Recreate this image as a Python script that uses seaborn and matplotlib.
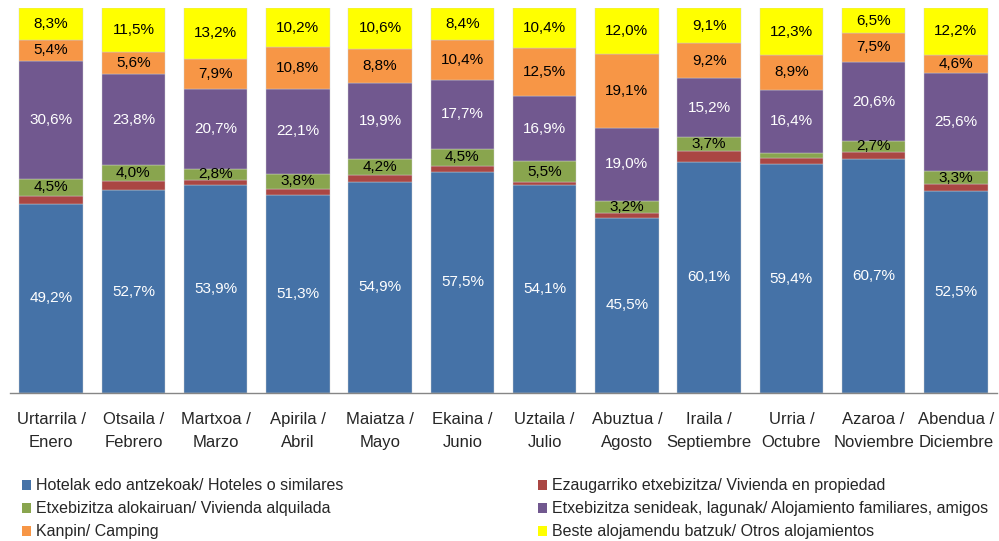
import numpy as np
import pandas as pd
import matplotlib
matplotlib.use("Agg")
import matplotlib.pyplot as plt
import seaborn as sns
from matplotlib.patches import Patch

months = ["Urtarrila /\nEnero", "Otsaila /\nFebrero", "Martxoa /\nMarzo", "Apirila /\nAbril",
          "Maiatza /\nMayo", "Ekaina /\nJunio", "Uztaila /\nJulio", "Abuztua /\nAgosto",
          "Iraila /\nSeptiembre", "Urria /\nOctubre", "Azaroa /\nNoviembre", "Abendua /\nDiciembre"]

hoteles = [49.2, 52.7, 53.9, 51.3, 54.9, 57.5, 54.1, 45.5, 60.1, 59.4, 60.7, 52.5]
propiedad = [2.0, 2.4, 1.5, 1.8, 1.6, 1.5, 0.6, 1.2, 2.7, 1.7, 2.0, 1.8]
alquilada = [4.5, 4.0, 2.8, 3.8, 4.2, 4.5, 5.5, 3.2, 3.7, 1.3, 2.7, 3.3]
familiares = [30.6, 23.8, 20.7, 22.1, 19.9, 17.7, 16.9, 19.0, 15.2, 16.4, 20.6, 25.6]
camping = [5.4, 5.6, 7.9, 10.8, 8.8, 10.4, 12.5, 19.1, 9.2, 8.9, 7.5, 4.6]
otros = [8.3, 11.5, 13.2, 10.2, 10.6, 8.4, 10.4, 12.0, 9.1, 12.3, 6.5, 12.2]

series_names = ["Hotelak edo antzekoak/ Hoteles o similares",
                "Ezaugarriko etxebizitza/ Vivienda en propiedad",
                "Etxebizitza alokairuan/ Vivienda alquilada",
                "Etxebizitza senideak, lagunak/ Alojamiento familiares, amigos",
                "Kanpin/ Camping",
                "Beste alojamendu batzuk/ Otros alojamientos"]
series_vals = [hoteles, propiedad, alquilada, familiares, camping, otros]
colors = ["#4572A7", "#AA4643", "#89A54E", "#71588F", "#F79646", "#FFFF00"]
text_colors = ["white", None, "black", "white", "black", "black"]
show_labels = [True, False, True, True, True, True]

sns.set_style("white")
plt.rcParams["font.family"] = ["Liberation Sans", "DejaVu Sans"]

fig = plt.figure(figsize=(9.99, 5.41), dpi=100)
ax = fig.add_axes([10/999, 1-393/541, 987/999, (393-8)/541])

bottom = np.zeros(len(months))
for name, vals, col, tc, sl in zip(series_names, series_vals, colors, text_colors, show_labels):
    df = pd.DataFrame({"mes": months, "val": vals})
    sns.barplot(data=df, x="mes", y="val", color=col, bottom=bottom, width=0.77,
                ax=ax, saturation=1, edgecolor="#d0d0d0", linewidth=0.3)
    if sl:
        for i, v in enumerate(vals):
            if v >= 2.0:
                ax.text(i, bottom[i] + v/2, f"{v:.1f}%".replace(".", ","),
                        ha="center", va="center", fontsize=11, color=tc)
    bottom = bottom + np.array(vals)

ax.set_ylim(0, 100)
ax.set_xlim(-0.5, 11.5)
ax.set_xlabel("")
ax.set_ylabel("")
ax.set_yticks([])
for s in ["top", "right", "left"]:
    ax.spines[s].set_visible(False)
ax.spines["bottom"].set_color("#868686")
ax.spines["bottom"].set_linewidth(1)
ax.set_xticks(np.arange(len(months)))
ax.set_xticklabels(months, fontsize=12, linespacing=1.65)
ax.tick_params(axis="x", which="major", length=0, pad=14)
ax.set_xticks(np.arange(-0.5, 12, 1), minor=True)
ax.tick_params(axis="x", which="minor", length=7, color="#868686", width=1, direction="out")

handles = [Patch(facecolor=c, edgecolor="none") for c in colors]
order = [0, 2, 4, 1, 3, 5]
leg = fig.legend([handles[i] for i in order], [series_names[i] for i in order],
                 loc="upper left", ncol=2,
                 frameon=False, fontsize=11.5, handlelength=0.55, handleheight=0.55,
                 handletextpad=0.3, columnspacing=12.2, labelspacing=0.5,
                 borderaxespad=0)
leg.set_bbox_to_anchor((0.016, 1-472/541), transform=fig.transFigure)

fig.savefig("out.png", dpi=100)
